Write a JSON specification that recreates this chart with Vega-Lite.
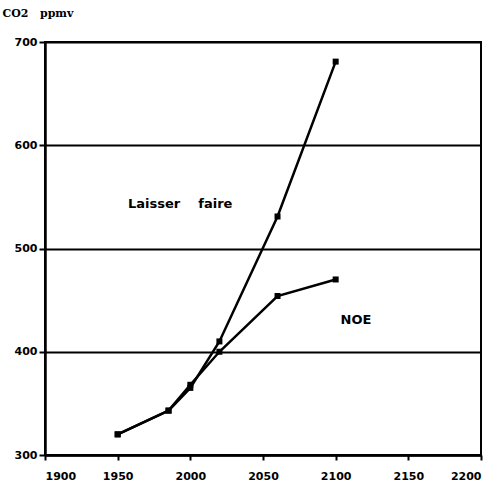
{
  "$schema": "https://vega.github.io/schema/vega-lite/v6.json",
  "width": 436,
  "height": 413,
  "autosize": {"type": "none"},
  "padding": {"left": 45, "top": 42, "right": 18, "bottom": 31},
  "background": "white",
  "config": {
    "view": {"stroke": "black", "strokeWidth": 2},
    "font": "DejaVu Sans",
    "axis": {"labelFont": "DejaVu Sans", "labelFontWeight": "bold", "labelColor": "black", "labelFontSize": 11, "domainColor": "black", "domainWidth": 2.5, "tickColor": "black", "tickWidth": 2}
  },
  "datasets": {
    "series": [
      {"year": 1950, "co2": 320, "scenario": "Laisser faire"},
      {"year": 1985, "co2": 343, "scenario": "Laisser faire"},
      {"year": 2000, "co2": 365, "scenario": "Laisser faire"},
      {"year": 2020, "co2": 410, "scenario": "Laisser faire"},
      {"year": 2060, "co2": 531, "scenario": "Laisser faire"},
      {"year": 2100, "co2": 681, "scenario": "Laisser faire"},
      {"year": 1950, "co2": 320, "scenario": "NOE"},
      {"year": 1985, "co2": 343, "scenario": "NOE"},
      {"year": 2000, "co2": 368, "scenario": "NOE"},
      {"year": 2020, "co2": 400, "scenario": "NOE"},
      {"year": 2060, "co2": 454, "scenario": "NOE"},
      {"year": 2100, "co2": 470, "scenario": "NOE"}
    ],
    "labels": [
      {"year": 1993, "co2": 543, "text": "Laisser\u00a0\u00a0\u00a0\u00a0faire"},
      {"year": 2114, "co2": 431, "text": "NOE"}
    ]
  },
  "layer": [
    {
      "data": {"name": "series"},
      "mark": {"type": "line", "color": "black", "strokeWidth": 2.5, "point": {"shape": "square", "filled": true, "size": 36, "color": "black"}},
      "encoding": {
        "x": {"field": "year", "type": "quantitative", "scale": {"domain": [1900, 2200], "nice": false, "zero": false},
          "axis": {"title": null, "values": [1900, 1950, 2000, 2050, 2100, 2150, 2200], "format": "d", "grid": false, "tickSize": 5, "labelPadding": 10}},
        "y": {"field": "co2", "type": "quantitative", "scale": {"domain": [300, 700], "nice": false, "zero": false},
          "axis": {"title": "CO2\u00a0\u00a0\u00a0ppmv", "titleAngle": 0, "titleX": -43, "titleY": -29, "titleAlign": "left", "titleBaseline": "middle", "titleFontSize": 11, "titleFontWeight": "bold", "titleFont": "DejaVu Serif", "titleColor": "black",
            "values": [300, 400, 500, 600, 700], "format": "d", "grid": true, "gridColor": "black", "gridWidth": 2, "gridOpacity": 1, "tickSize": 6, "labelPadding": 2}},
        "detail": {"field": "scenario"}
      }
    },
    {
      "data": {"name": "labels"},
      "mark": {"type": "text", "font": "DejaVu Sans", "fontWeight": "bold", "fontSize": 13, "color": "black"},
      "encoding": {
        "x": {"field": "year", "type": "quantitative"},
        "y": {"field": "co2", "type": "quantitative"},
        "text": {"field": "text"}
      }
    }
  ]
}
